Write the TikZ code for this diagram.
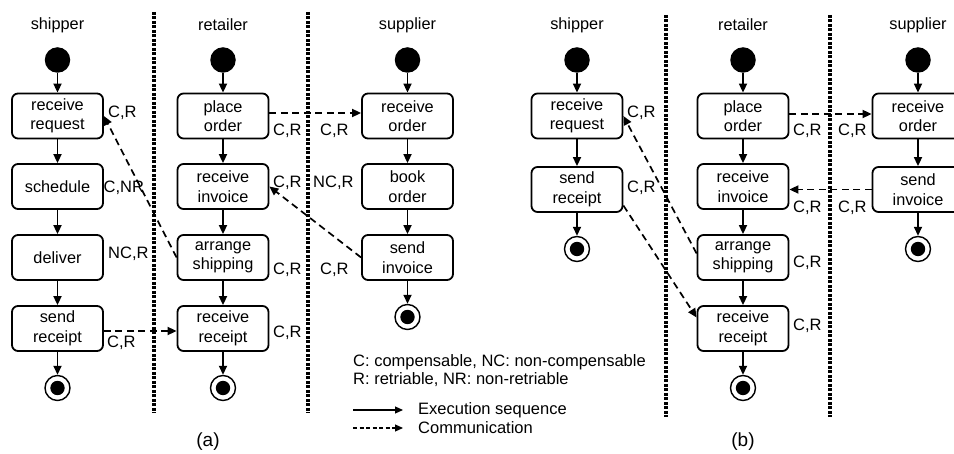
\documentclass[tikz,border=0pt]{standalone}
\usepackage{fontspec}
\setmainfont{Liberation Sans}
\usetikzlibrary{arrows.meta}
\begin{document}
\begin{tikzpicture}[x=1pt,y=-1pt,
  act/.style={draw, line width=1.8pt, rounded corners=6pt, minimum width=91pt,
    minimum height=45pt, inner sep=0pt, align=center, font=\fontsize{16.3}{19.5}\selectfont},
  startpt/.style={circle, fill=black, minimum size=25.5pt, inner sep=0pt},
  endpt/.style={circle, draw, line width=1.4pt, minimum size=25pt, inner sep=0pt,
    path picture={\fill (path picture bounding box.center) circle (7.2pt);}},
  lanehead/.style={inner sep=0pt, font=\fontsize{16.3}{19}\selectfont},
  tag/.style={anchor=west, inner sep=0pt, font=\fontsize{16.5}{19}\selectfont},
  seq/.style={-{Triangle[length=9pt,width=8pt]}, line width=1.7pt},
  msg/.style={-{Triangle[length=9pt,width=8pt]}, line width=1.7pt, dash pattern=on 7pt off 4.5pt},
  swim/.style={line width=3.2pt, dash pattern=on 2.6pt off 1.9pt},
  keyseq/.style={-{Triangle[length=8pt,width=7pt]}, line width=1.2pt},
  keymsg/.style={-{Triangle[length=8pt,width=7pt]}, line width=1.2pt, dash pattern=on 4pt off 2.5pt},
]
\clip (0,0) rectangle (954,454);

% ---------------- (a) ----------------
% swim lane separators
\coordinate (aL1t) at (154,12);  \coordinate (aL1b) at (154,413);
\coordinate (aL2t) at (308,12);  \coordinate (aL2b) at (308,413);
\draw[swim] (aL1t) -- (aL1b);
\draw[swim] (aL2t) -- (aL2b);

% shipper
\node[lanehead] (aHs) at (57.5,25) {shipper};
\node[startpt] (aSs) at (57.5,60) {};
\node[act] (aRrq) at (57.5,116) {receive\\request};
\node[act] (aSch) at (57.5,186.5) {schedule};
\node[act] (aDel) at (57.5,257.5) {deliver};
\node[act] (aSrc) at (57.5,328.5) {send\\receipt};
\node[endpt] (aEs) at (57.5,388) {};
\draw[seq] (aSs) -- (aRrq);
\draw[seq] (aRrq) -- (aSch);
\draw[seq] (aSch) -- (aDel);
\draw[seq] (aDel) -- (aSrc);
\draw[seq] (aSrc) -- (aEs);

% retailer
\node[lanehead] (aHr) at (223,25) {retailer};
\node[startpt] (aSr) at (223,60) {};
\node[act] (aPo) at (223,116) {place\\order};
\node[act] (aRiv) at (223,186.5) {receive\\invoice};
\node[act] (aAsh) at (223,257.5) {arrange\\shipping};
\node[act] (aRrc) at (223,328.5) {receive\\receipt};
\node[endpt] (aEr) at (223,388) {};
\draw[seq] (aSr) -- (aPo);
\draw[seq] (aPo) -- (aRiv);
\draw[seq] (aRiv) -- (aAsh);
\draw[seq] (aAsh) -- (aRrc);
\draw[seq] (aRrc) -- (aEr);

% supplier
\node[lanehead] (aHp) at (407.5,25) {supplier};
\node[startpt] (aSp) at (407.5,60) {};
\node[act] (aRo) at (407.5,116) {receive\\order};
\node[act] (aBo) at (407.5,186.5) {book\\order};
\node[act] (aSiv) at (407.5,257.5) {send\\invoice};
\node[endpt] (aEp) at (407.5,317) {};
\draw[seq] (aSp) -- (aRo);
\draw[seq] (aRo) -- (aBo);
\draw[seq] (aBo) -- (aSiv);
\draw[seq] (aSiv) -- (aEp);

% messages
\draw[msg] ([yshift=3pt]aPo.east) -- ([yshift=3pt]aRo.west);
\draw[msg] (aSiv.west) -- (aRiv.east);
\draw[msg] (aAsh.west) -- (aRrq.east);
\draw[msg] ([yshift=-2.5pt]aSrc.east) -- ([yshift=-2.5pt]aRrc.west);

% transaction properties
\node[tag] (aTRrq) at (108,113) {C,R};
\node[tag] (aTSch) at (103.5,188) {C,NR};
\node[tag] (aTDel) at (108,254) {NC,R};
\node[tag] (aTSrc) at (107,343) {C,R};
\node[tag] (aTPo)  at (273,131) {C,R};
\node[tag] (aTRiv) at (273,183) {C,R};
\node[tag] (aTAsh) at (273,270) {C,R};
\node[tag] (aTRrc) at (273,333) {C,R};
\node[tag] (aTRo)  at (320,131) {C,R};
\node[tag] (aTBo)  at (313,183) {NC,R};
\node[tag] (aTSiv) at (320,270) {C,R};

\node[lanehead, font=\fontsize{19}{21}\selectfont] (capA) at (208,442) {(a)};

% ---------------- legend ----------------
\node[tag] (key1) at (353,362) {C: compensable, NC: non-compensable};
\node[tag] (key2) at (353,380) {R: retriable, NR: non-retriable};
\coordinate (k3s) at (353,410); \coordinate (k3e) at (403,410);
\coordinate (k4s) at (353,428); \coordinate (k4e) at (403,428);
\draw[keyseq] (k3s) -- (k3e);
\draw[keymsg] (k4s) -- (k4e);
\node[tag] (key3) at (418,410) {Execution sequence};
\node[tag] (key4) at (418,428) {Communication};

% ---------------- (b) ----------------
\coordinate (bL1t) at (666,15);  \coordinate (bL1b) at (666,417);
\coordinate (bL2t) at (830,15);  \coordinate (bL2b) at (830,417);
\draw[swim] (bL1t) -- (bL1b);
\draw[swim] (bL2t) -- (bL2b);

% shipper
\node[lanehead] (bHs) at (577,25) {shipper};
\node[startpt] (bSs) at (577,60) {};
\node[act] (bRrq) at (577,116) {receive\\request};
\node[act] (bSrc) at (577,189.5) {send\\receipt};
\node[endpt] (bEs) at (577,249) {};
\draw[seq] (bSs) -- (bRrq);
\draw[seq] (bRrq) -- (bSrc);
\draw[seq] (bSrc) -- (bEs);

% retailer
\node[lanehead] (bHr) at (743,25) {retailer};
\node[startpt] (bSr) at (743,60) {};
\node[act] (bPo) at (743,116) {place\\order};
\node[act] (bRiv) at (743,186.5) {receive\\invoice};
\node[act] (bAsh) at (743,257.5) {arrange\\shipping};
\node[act] (bRrc) at (743,328.5) {receive\\receipt};
\node[endpt] (bEr) at (743,388) {};
\draw[seq] (bSr) -- (bPo);
\draw[seq] (bPo) -- (bRiv);
\draw[seq] (bRiv) -- (bAsh);
\draw[seq] (bAsh) -- (bRrc);
\draw[seq] (bRrc) -- (bEr);

% supplier
\node[lanehead] (bHp) at (918,25) {supplier};
\node[startpt] (bSp) at (918,60) {};
\node[act] (bRo) at (918,116) {receive\\order};
\node[act] (bSiv) at (918,189.5) {send\\invoice};
\node[endpt] (bEp) at (918,249) {};
\draw[seq] (bSp) -- (bRo);
\draw[seq] (bRo) -- (bSiv);
\draw[seq] (bSiv) -- (bEp);

% messages
\draw[msg] ([yshift=2pt]bPo.east) -- ([yshift=2pt]bRo.west);
\draw[msg] (bSiv.west) -- (bSiv.west -| bRiv.east);
\draw[msg] ([yshift=4pt]bAsh.west) -- (bRrq.east);
\draw[msg] ([yshift=-16pt]bSrc.east) -- ([yshift=11pt]bRrc.west);

% transaction properties
\node[tag] (bTRrq) at (627,113) {C,R};
\node[tag] (bTSrc) at (627,188) {C,R};
\node[tag] (bTPo)  at (793,131) {C,R};
\node[tag] (bTRo)  at (838,131) {C,R};
\node[tag] (bTRiv) at (793,208) {C,R};
\node[tag] (bTSiv) at (838,208) {C,R};
\node[tag] (bTAsh) at (793,263) {C,R};
\node[tag] (bTRrc) at (793,326) {C,R};

\node[lanehead, font=\fontsize{19}{21}\selectfont] (capB) at (743,442) {(b)};
\end{tikzpicture}
\end{document}
